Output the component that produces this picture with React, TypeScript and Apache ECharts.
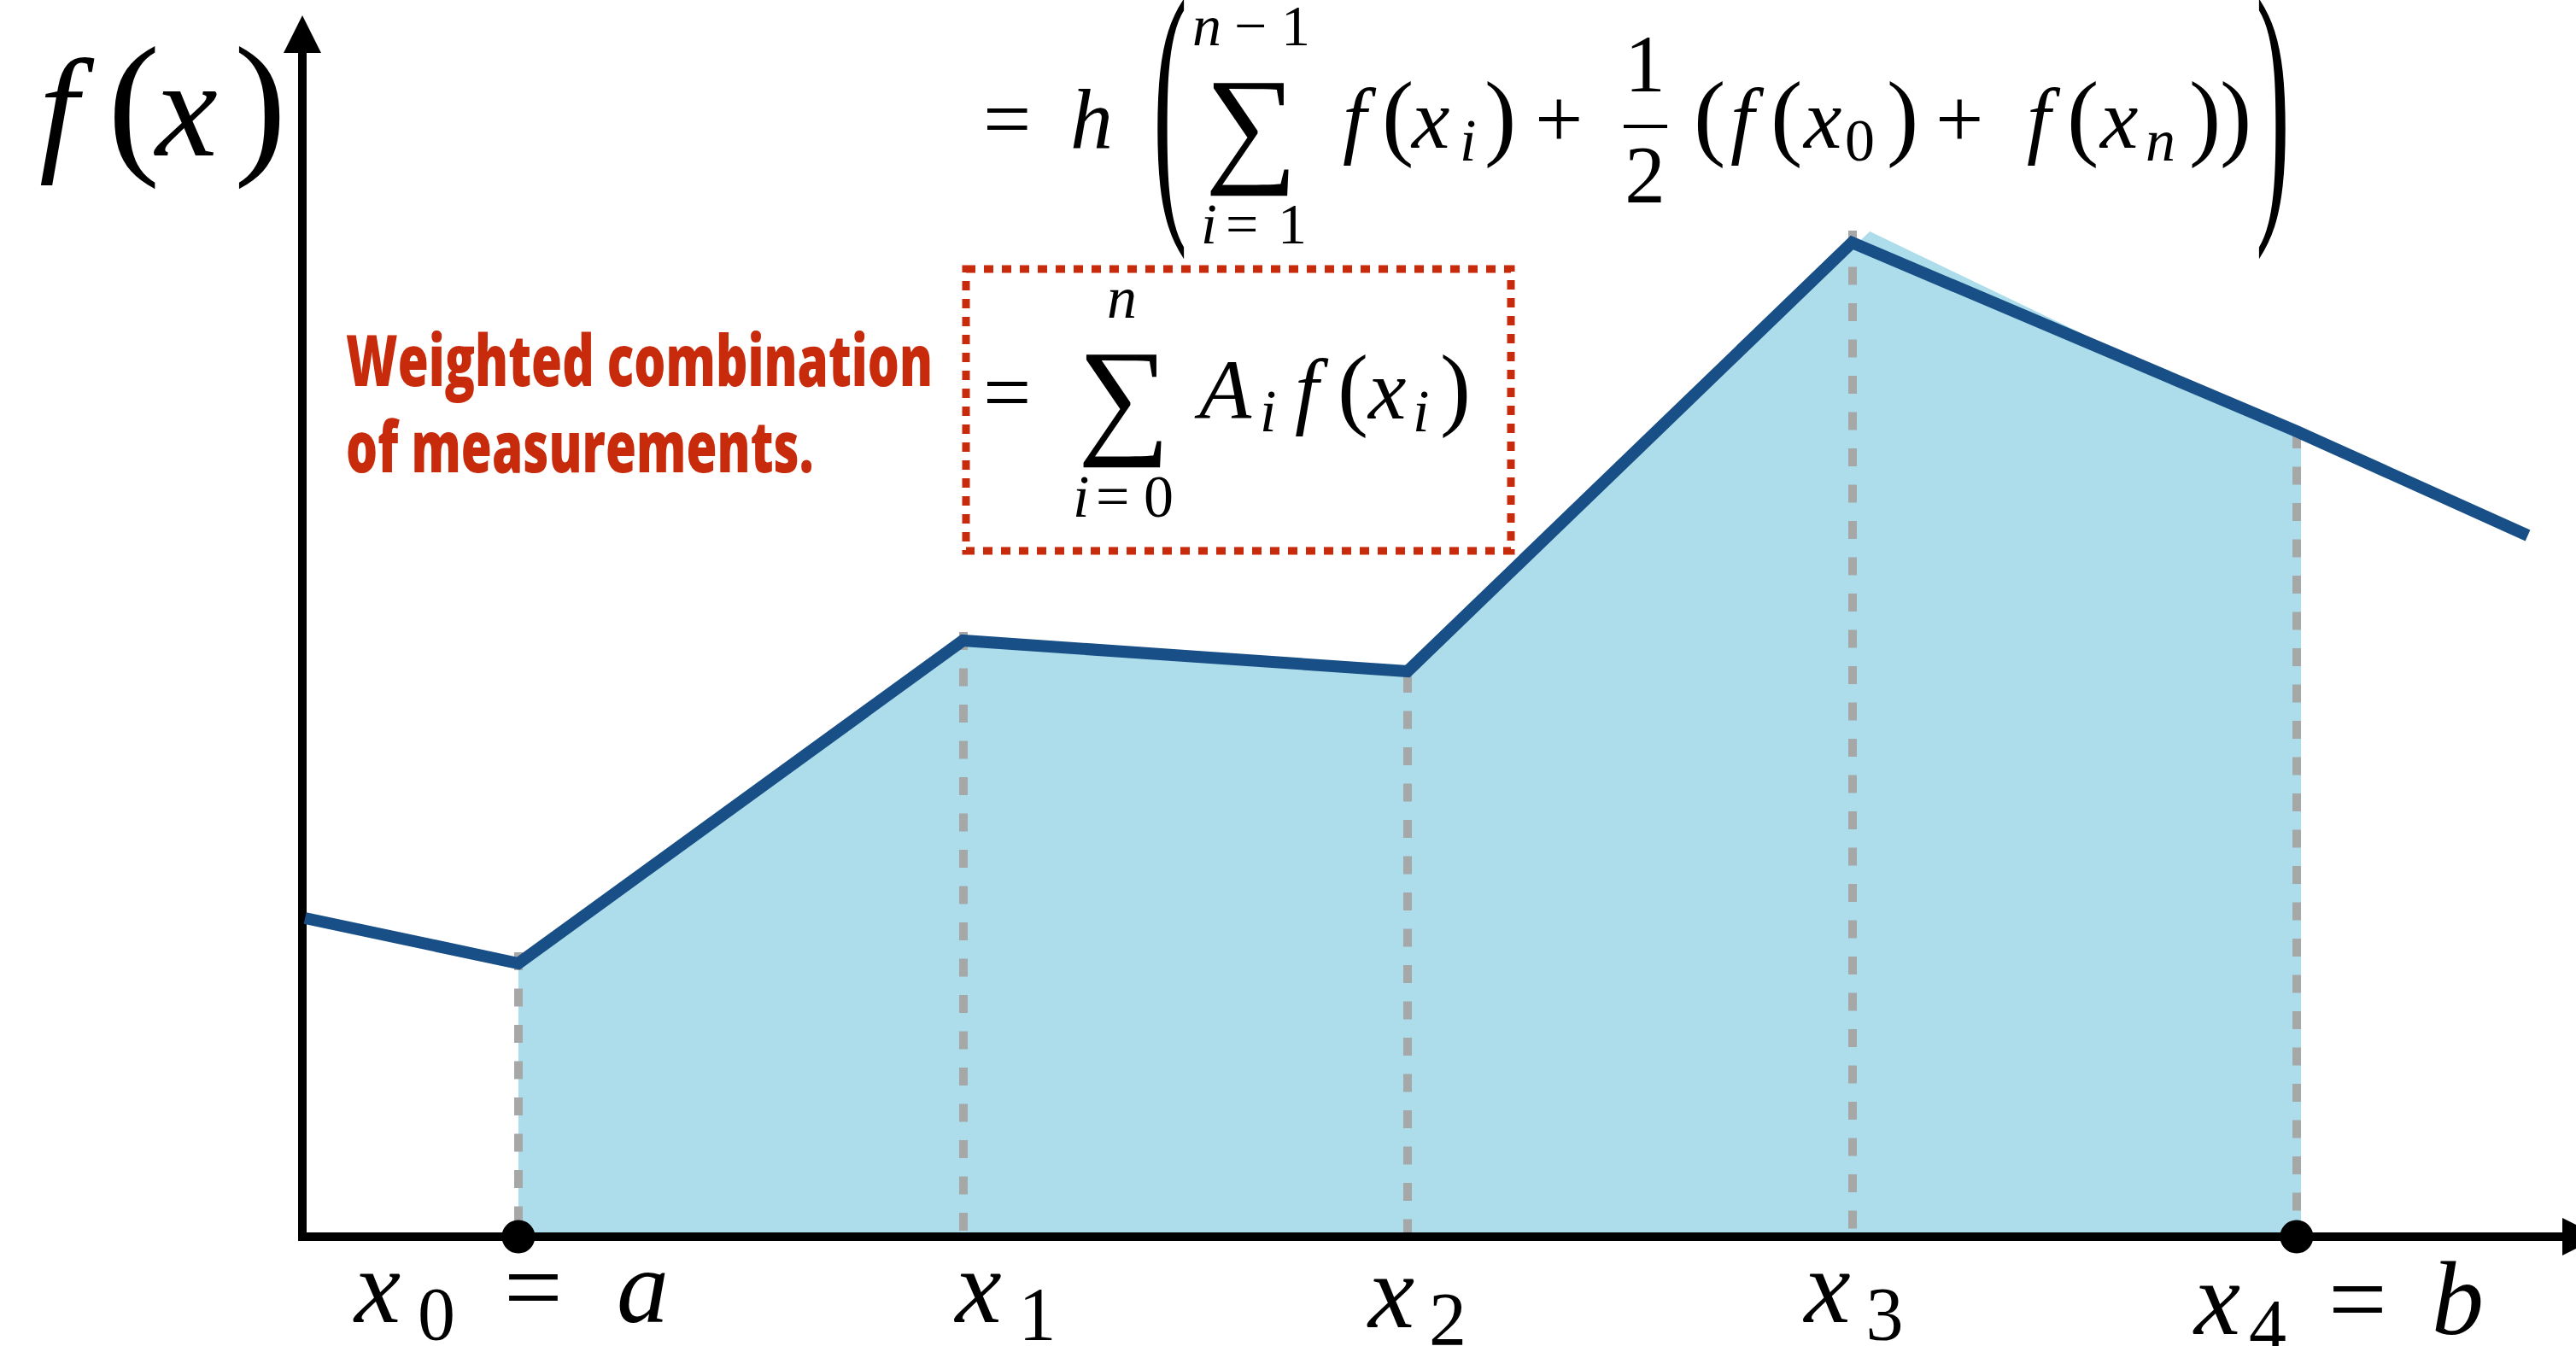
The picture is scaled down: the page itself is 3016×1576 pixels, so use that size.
import React, { useEffect, useRef } from "react";
import * as echarts from "echarts";

// ---- data -----------------------------------------------------------------
// Sample nodes x_0 … x_4, one step h apart
const nodeX = [0, 1, 2, 3, 4];
// The function f(x) drawn as a polyline (extends a little past a and b)
const curveX = [-0.48, 0, 1, 2, 3, 4, 4.52];
const curveY = [3.73, 3.2, 6.98, 6.62, 11.64, 9.43, 8.21];
// Shaded region between a and b
const areaX = [0, 1, 2, 3.04, 4.01];
const areaY = [3.2, 6.98, 6.62, 11.77, 9.34];
// Top of the dashed guide above each node
const guideTop = [3.33, 7.08, 6.58, 11.78, 9.44];
// Interval end-points a and b
const endpointX = [0, 4];
// Node labels under the axis: [text, style] tokens
const tickLabels: [string, string][][] = [
  [["x", "it"], ["0", "sub"], ["=", "rm"], ["a", "it"]],
  [["x", "it"], ["1", "sub"]],
  [["x", "it"], ["2", "sub"]],
  [["x", "it"], ["3", "sub"]],
  [["x", "it"], ["4", "sub"], ["=", "rm"], ["b", "it"]],
];
const noteLines = ["Weighted combination", "of measurements."];

// ---- styling / layout -----------------------------------------------------
const SERIF = "'Liberation Serif'";
const SANS = "'Open Sans'";
const INK = "#000000";
const BLUE = "#174F86";
const FILL = "#ADDDEA";
const GUIDE = "#A6A8A8";
const RED = "#C82A0C";
const CENTRAL = 0.3375; // alphabetic → central baseline, in em

// node-label placement relative to the node on the axis
const tickLayout = [
  { dy: 100, dx: [-192, -118, -17, 115] },
  { dy: 100, dx: [-9, 65] },
  { dy: 106, dx: [-46, 25] },
  { dy: 100, dx: [-56, 16] },
  { dy: 114, dx: [-120, -56, 37, 158] },
];
const TICK = 122;
const TICK_SUB = 88;
const SUB_DROP = 20;

type Piece = [string, number, number, number, boolean];
const S = 100;
const SS = 70;
const LIM = 68;
const PAR = 112;

const axisLabelPieces: Piece[] = [
  ["f", 46, 182, 164, true],
  ["(", 126, 182, 184, false],
  ["x", 182, 182, 164, true],
  [")", 274, 182, 184, false],
];

const topFormula: Piece[] = [
  ["=", 1151, 173, S, false],
  ["h", 1253, 173, S, true],
  ["n", 1396, 53, LIM, true],
  ["\u2212", 1445, 53, LIM, false],
  ["1", 1500, 53, LIM, false],
  ["i", 1406, 285, LIM, true],
  ["=", 1435, 285, LIM, false],
  ["1", 1496, 285, LIM, false],
  ["f", 1572, 173, S, true],
  ["(", 1618, 173, PAR, false],
  ["x", 1653, 173, S, true],
  ["i", 1709, 188, SS, true],
  [")", 1738, 173, PAR, false],
  ["+", 1797, 173, S, false],
  ["(", 1983, 173, PAR, false],
  ["f", 2026, 173, S, true],
  ["(", 2073, 173, PAR, false],
  ["x", 2112, 173, S, true],
  ["0", 2160, 188, SS, false],
  [")", 2209, 173, PAR, false],
  ["+", 2266, 173, S, false],
  ["f", 2373, 173, S, true],
  ["(", 2420, 173, PAR, false],
  ["x", 2459, 173, S, true],
  ["n", 2512, 188, SS, true],
  [")", 2563, 173, PAR, false],
  [")", 2599, 173, PAR, false],
];

const boxFormula: Piece[] = [
  ["=", 1151, 493, S, false],
  ["n", 1296, 372, SS, true],
  ["i", 1256, 605, SS, true],
  ["=", 1283, 605, SS, false],
  ["0", 1339, 605, SS, false],
  ["A", 1404, 490, S, true],
  ["i", 1475, 505, SS, true],
  ["f", 1516, 490, S, true],
  ["(", 1566, 490, 108, false],
  ["x", 1602, 490, S, true],
  ["i", 1654, 505, SS, true],
  [")", 1686, 490, 108, false],
];

function textEl(
  text: string,
  x: number,
  y: number,
  size: number,
  opts: { italic?: boolean; family?: string; weight?: any; color?: string; align?: string; scaleX?: number; scaleY?: number } = {}
) {
  const el: any = {
    type: "text",
    x,
    y,
    style: {
      text,
      fill: opts.color || INK,
      fontFamily: opts.family || SERIF,
      fontSize: size,
      align: opts.align || "left",
      verticalAlign: "middle",
      legacy: false,
    },
  };
  if (opts.italic) el.style.fontStyle = "italic";
  if (opts.weight) el.style.fontWeight = opts.weight;
  if (opts.scaleX) el.scaleX = opts.scaleX;
  if (opts.scaleY) el.scaleY = opts.scaleY;
  return el;
}

function glyph([text, x, baseline, size, italic]: Piece) {
  return textEl(text, x, baseline - CENTRAL * size, size, { italic });
}

function bigParen(text: string, cx: number, cy: number) {
  const size = 120;
  const sy = 2.8;
  return textEl(text, cx, cy - 0.088 * size * sy, size, { align: "center", scaleY: sy });
}

function sigma(cx: number, cy: number) {
  return textEl("\u2211", cx, cy, 152, { align: "center" });
}

function staticGraphic() {
  const els: any[] = [];
  axisLabelPieces.forEach((p) => els.push(glyph(p)));
  topFormula.forEach((p) => els.push(glyph(p)));
  els.push(bigParen("(", 1370, 148));
  els.push(bigParen(")", 2661, 148));
  els.push(sigma(1465, 146));
  // one half
  els.push(textEl("1", 1926, 107 - CENTRAL * 95, 95, { align: "center" }));
  els.push({
    type: "line",
    shape: { x1: 1901, y1: 148, x2: 1952, y2: 148 },
    style: { stroke: INK, lineWidth: 4 },
  });
  els.push(textEl("2", 1926, 237 - CENTRAL * 95, 95, { align: "center" }));
  // boxed weighted-sum form
  els.push({
    type: "rect",
    shape: { x: 1131, y: 315, width: 638, height: 330 },
    style: { fill: "none", stroke: RED, lineWidth: 9, lineDash: [11, 10] },
  });
  boxFormula.forEach((p) => els.push(glyph(p)));
  els.push(sigma(1316, 464));
  // note
  const noteSize = 84;
  [452, 553].forEach((base, i) => {
    els.push(
      textEl(noteLines[i], 405, base - 0.388 * noteSize, noteSize, {
        family: SANS, weight: 800, color: RED, scaleX: 0.695,
      })
    );
  });
  return els;
}

const axisCommon = {
  type: "value",
  z: 3,
  axisLine: {
    show: true,
    onZero: false,
    symbol: ["none", "triangle"],
    symbolSize: [44, 44],
    lineStyle: { color: INK, width: 10, cap: "square" },
  },
  axisTick: { show: false },
  axisLabel: { show: false },
  splitLine: { show: false },
};

const option: any = {
  animation: false,
  backgroundColor: "#ffffff",
  grid: { left: 354, right: -6, top: 40, bottom: 128, containLabel: false, outerBoundsMode: "none" },
  xAxis: { ...axisCommon, min: -0.486, max: 4.64 },
  yAxis: { ...axisCommon, min: 0, max: 14.08 },
  graphic: { elements: staticGraphic() },
  series: [
    {
      name: "area",
      type: "line",
      z: 1,
      data: areaX.map((x, i) => [x, areaY[i]]),
      symbol: "none",
      showSymbol: false,
      lineStyle: { width: 0, opacity: 0 },
      areaStyle: { color: FILL, opacity: 1 },
      silent: true,
      markLine: {
        silent: true,
        z: 2,
        symbol: ["none", "none"],
        label: { show: false },
        emphasis: { disabled: true },
        lineStyle: { color: GUIDE, width: 10, type: [21, 21.5], cap: "butt" },
        data: nodeX.map((x, i) => [{ coord: [x, guideTop[i]] }, { coord: [x, 0] }]),
      },
    },
    {
      name: "f",
      type: "line",
      z: 4,
      data: curveX.map((x, i) => [x, curveY[i]]),
      symbol: "none",
      showSymbol: false,
      silent: true,
      lineStyle: { color: BLUE, width: 14, cap: "butt", join: "miter" },
    },
    {
      name: "ends",
      type: "scatter",
      z: 5,
      clip: false,
      silent: true,
      data: endpointX.map((x) => [x, 0]),
      symbolSize: 39,
      itemStyle: { color: INK, opacity: 1 },
    },
  ],
};

export default function App() {
  const ref = useRef<HTMLDivElement>(null);
  useEffect(() => {
    const chart = echarts.init(ref.current!, null, { renderer: "svg" });
    chart.setOption(option);
    // node labels, anchored on each node's position on the x axis
    const labels: any[] = [];
    nodeX.forEach((nx, i) => {
      const [px, py] = chart.convertToPixel({ gridIndex: 0 }, [nx, 0]) as number[];
      const lay = tickLayout[i];
      tickLabels[i].forEach(([text, kind], k) => {
        const sub = kind === "sub";
        const size = sub ? TICK_SUB : TICK;
        labels.push(
          glyph([text, px + lay.dx[k], py + lay.dy + (sub ? SUB_DROP : 0), size, kind === "it"])
        );
      });
    });
    chart.setOption({ graphic: { elements: [...staticGraphic(), ...labels] } });
    return () => chart.dispose();
  }, []);
  return (
    <div
      ref={ref}
      style={{ position: "absolute", left: 0, top: 0, width: 3016, height: 1576 }}
    />
  );
}
